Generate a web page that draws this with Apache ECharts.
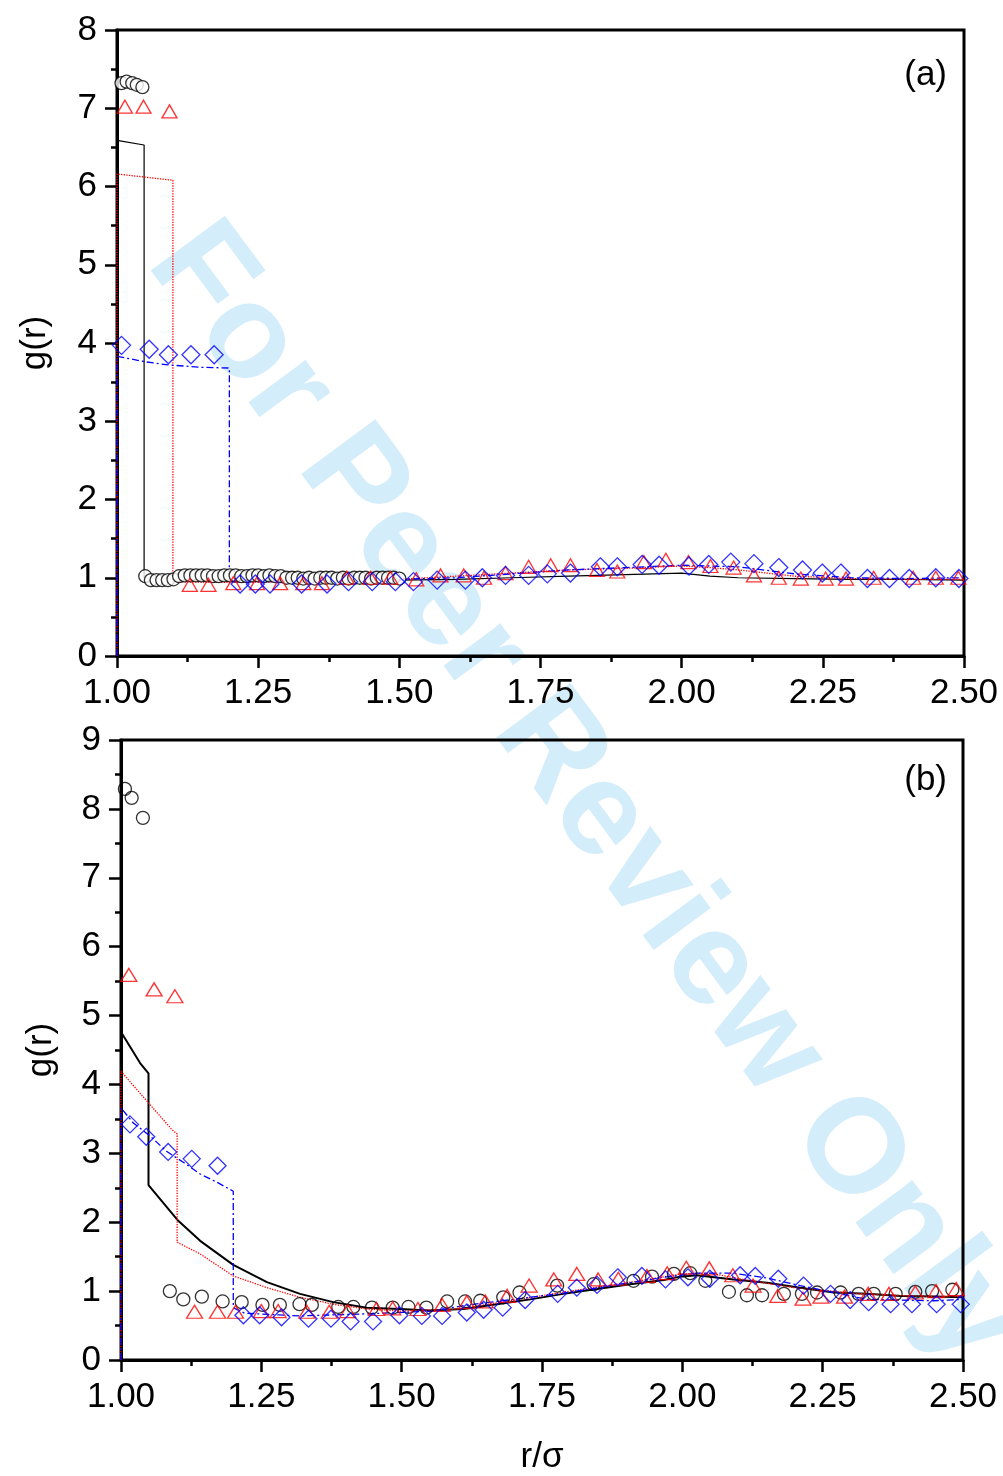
<!DOCTYPE html>
<html><head><meta charset="utf-8">
<script src="https://cdn.jsdelivr.net/npm/echarts@6/dist/echarts.min.js"></script>
<style>html,body{margin:0;padding:0;background:#fff}#c{width:1003px;height:1476px}</style>
</head><body><div id="c"></div>
<script>
// ---------- Panel (a) data ----------
const aCircX = [1.008,1.017,1.027,1.035,1.045,
  1.05,1.06,1.07,1.08,1.09,1.10,1.11,1.12,1.13,1.14,1.15,1.16,1.17,1.18,1.19,1.20,
  1.21,1.22,1.23,1.24,1.25,1.26,1.27,1.28,1.29,1.30,1.31,1.32,1.33,1.34,1.35,1.36,
  1.37,1.38,1.39,1.40,1.41,1.42,1.43,1.44,1.45,1.46,1.47,1.48,1.49,1.50];
const aCircY = [7.32,7.34,7.32,7.30,7.27,
  1.02,0.97,0.97,0.97,0.97,0.98,1.02,1.03,1.03,1.03,1.03,1.03,1.02,1.02,1.03,1.03,
  1.03,1.02,1.02,1.03,1.03,1.02,1.03,1.02,1.02,1.00,1.00,1.00,0.99,1.00,0.99,1.00,
  1.00,1.00,0.99,1.00,0.99,1.00,1.00,1.00,0.99,1.00,1.00,1.00,1.00,0.99];
const aTriX = [1.014,1.047,1.093,1.129,1.162,1.206,1.248,1.289,1.330,1.363,1.407,1.449,1.484,1.530,
  1.573,1.614,1.650,1.688,1.729,1.768,1.803,1.850,1.886,1.933,1.972,2.012,2.051,2.092,2.128,
  2.172,2.211,2.255,2.291,2.340,2.410,2.450,2.490];
const aTriY = [7.02,7.02,6.96,0.91,0.91,0.93,0.93,0.93,0.93,0.93,1.00,1.00,1.00,0.98,
  1.03,1.03,1.00,1.06,1.14,1.16,1.16,1.10,1.08,1.20,1.23,1.20,1.15,1.13,1.03,
  1.00,0.99,0.99,0.99,1.00,1.00,1.00,1.00];
const aDiaX = [1.008,1.057,1.091,1.131,1.172,1.218,1.245,1.271,1.327,1.372,1.410,1.452,1.493,1.525,
  1.567,1.617,1.647,1.688,1.729,1.762,1.803,1.856,1.886,1.930,1.960,2.013,2.048,2.087,2.128,
  2.172,2.214,2.249,2.282,2.329,2.368,2.403,2.450,2.491];
const aDiaY = [3.97,3.92,3.85,3.85,3.85,0.92,0.92,0.92,0.92,0.92,0.95,0.95,0.95,0.95,
  0.97,0.97,1.00,1.03,1.03,1.05,1.06,1.14,1.14,1.17,1.16,1.15,1.17,1.20,1.18,
  1.13,1.10,1.06,1.06,0.99,0.99,0.99,1.00,0.99];
const aBlackX = [1.0,1.0,1.048,1.048,1.1,1.2,1.3,1.4,1.5,1.6,1.7,1.8,1.9,2.0,2.05,2.1,2.2,2.3,2.4,2.5];
const aBlackY = [0,6.59,6.53,1.00,0.98,0.97,0.97,0.97,0.97,0.98,1.00,1.02,1.04,1.06,1.02,1.00,0.99,0.98,0.98,0.97];
const aRedX = [1.0,1.0,1.099,1.099,1.2,1.3,1.4,1.5,1.6,1.7,1.8,1.9,2.0,2.05,2.1,2.2,2.3,2.4,2.5];
const aRedY = [0,6.16,6.08,0.95,0.94,0.95,0.97,0.98,1.02,1.06,1.10,1.12,1.15,1.13,1.10,1.02,0.99,0.98,0.98];
const aBlueX = [1.0,1.0,1.05,1.09,1.15,1.199,1.199,1.3,1.4,1.5,1.6,1.7,1.8,1.9,2.0,2.1,2.2,2.3,2.4,2.5];
const aBlueY = [0,3.83,3.76,3.72,3.69,3.68,0.95,0.95,0.96,0.98,1.00,1.05,1.10,1.13,1.16,1.14,1.05,1.00,0.99,1.00];

// ---------- Panel (b) data ----------
const bCircX = [1.007,1.019,1.039,1.087,1.111,1.144,1.181,1.215,1.252,1.283,1.318,1.340,1.387,1.414,
  1.447,1.484,1.512,1.544,1.581,1.613,1.640,1.681,1.710,1.777,1.842,1.913,1.946,1.985,2.014,
  2.041,2.083,2.115,2.142,2.181,2.213,2.240,2.282,2.314,2.341,2.380,2.415,2.445,2.481];
const bCircY = [8.29,8.16,7.87,1.00,0.88,0.92,0.85,0.84,0.80,0.80,0.81,0.80,0.77,0.77,
  0.76,0.76,0.77,0.76,0.85,0.85,0.86,0.91,0.98,1.08,1.10,1.15,1.21,1.25,1.26,
  1.15,0.99,0.94,0.94,0.96,0.96,0.98,0.98,0.96,0.96,0.96,0.99,1.00,1.02];
const bTriX = [1.014,1.059,1.096,1.131,1.172,1.204,1.250,1.280,1.331,1.371,1.404,1.455,1.484,1.529,
  1.572,1.616,1.649,1.688,1.727,1.771,1.812,1.850,1.886,1.937,1.973,2.007,2.048,2.090,2.126,
  2.170,2.215,2.247,2.289,2.331,2.368,2.415,2.452,2.488];
const bTriY = [5.59,5.38,5.28,0.70,0.70,0.70,0.71,0.71,0.70,0.70,0.71,0.74,0.75,0.74,
  0.80,0.84,0.85,0.93,1.08,1.17,1.25,1.17,1.18,1.22,1.26,1.34,1.33,1.23,1.08,
  0.93,0.89,0.92,0.92,0.96,0.96,0.98,1.00,1.03];
const bDiaX = [1.016,1.045,1.084,1.126,1.172,1.218,1.247,1.286,1.334,1.374,1.409,1.449,1.496,1.536,
  1.572,1.616,1.646,1.680,1.720,1.778,1.812,1.848,1.885,1.928,1.970,2.010,2.049,2.103,2.130,
  2.171,2.216,2.264,2.299,2.332,2.371,2.409,2.453,2.496];
const bDiaY = [3.42,3.24,3.02,2.92,2.82,0.65,0.65,0.62,0.60,0.60,0.56,0.56,0.65,0.64,
  0.64,0.69,0.73,0.76,0.87,0.96,1.05,1.09,1.20,1.22,1.17,1.20,1.18,1.23,1.22,
  1.18,1.08,0.96,0.87,0.84,0.81,0.81,0.81,0.81];
const bBlackX = [1.0,1.0,1.034,1.049,1.049,1.102,1.141,1.2,1.26,1.319,1.378,1.438,1.497,1.55,1.61,
  1.688,1.729,1.788,1.848,1.907,1.967,1.996,2.026,2.091,2.151,2.21,2.27,2.329,2.389,2.448,2.5];
const bBlackY = [0,4.76,4.31,4.16,2.54,2.02,1.73,1.38,1.13,0.96,0.84,0.76,0.74,0.72,0.74,
  0.83,0.88,0.96,1.03,1.10,1.16,1.21,1.23,1.17,1.12,1.05,0.98,0.96,0.93,0.92,0.91];
const bRedX = [1.0,1.0,1.09,1.10,1.10,1.141,1.2,1.26,1.319,1.378,1.438,1.497,1.6,1.7,1.8,1.9,2.0,2.05,2.1,2.2,2.3,2.4,2.5];
const bRedY = [0,4.19,3.35,3.28,1.71,1.54,1.22,1.05,0.91,0.81,0.74,0.71,0.74,0.87,1.00,1.12,1.25,1.26,1.18,1.05,0.97,0.93,0.92];
const bBlueX = [1.0,1.0,1.022,1.052,1.081,1.111,1.141,1.171,1.20,1.20,1.22,1.319,1.438,1.557,1.61,
  1.729,1.788,1.967,2.026,2.091,2.151,2.21,2.27,2.329,2.389,2.448,2.5];
const bBlueY = [0,3.66,3.44,3.25,3.03,2.87,2.70,2.58,2.45,0.76,0.68,0.64,0.67,0.71,0.79,
  0.91,0.97,1.20,1.26,1.26,1.19,1.08,0.98,0.88,0.87,0.86,0.88];

// ---------- axes / labels ----------
const xMin = 1.0, xMax = 2.5, xStep = 0.25;
const aYMax = 8, bYMax = 9, yStep = 1;
const yName = 'g(r)', xName = 'r/σ';
const panelLabels = ['(a)', '(b)'];
const watermark = 'For Peer Review Only';

const FONT = "'Liberation Sans', Arial, sans-serif";
const FS = 35;
const pts = (xs, ys) => xs.map((x, i) => [x, ys[i]]);

function xAxisCfg(gi, showName) {
  return {
    type: 'value', gridIndex: gi, min: xMin, max: xMax, interval: xStep,
    axisLine: { show: true, lineStyle: { color: '#000', width: 3 } },
    axisTick: { show: true, inside: false, length: 12, lineStyle: { color: '#000', width: 2.5 } },
    minorTick: { show: true, splitNumber: 2, length: 6, lineStyle: { color: '#000', width: 2.5 } },
    splitLine: { show: false },
    axisLabel: { color: '#000', fontSize: FS, fontFamily: FONT, margin: 20,
      formatter: v => v.toFixed(2) },
    name: showName ? xName : '', nameLocation: 'middle', nameGap: 80,
    nameTextStyle: { color: '#000', fontSize: FS, fontFamily: FONT }
  };
}
function yAxisCfg(gi, max, gap) {
  return {
    type: 'value', gridIndex: gi, min: 0, max: max, interval: yStep,
    axisLine: { show: true, lineStyle: { color: '#000', width: 3 } },
    axisTick: { show: true, inside: false, length: 12, lineStyle: { color: '#000', width: 2.5 } },
    minorTick: { show: true, splitNumber: 2, length: 6, lineStyle: { color: '#000', width: 2.5 } },
    splitLine: { show: false },
    axisLabel: { color: '#000', fontSize: FS, fontFamily: FONT, margin: 20 },
    name: yName, nameLocation: 'middle', nameGap: gap, nameRotate: 90,
    nameTextStyle: { color: '#000', fontSize: FS, fontFamily: FONT }
  };
}
function line(gi, xs, ys, color, type, width) {
  return { type: 'line', xAxisIndex: gi, yAxisIndex: gi, data: pts(xs, ys), symbol: 'none',
    showSymbol: false, lineStyle: { color, type, width }, z: 2, animation: false, silent: true };
}
function scat(gi, xs, ys, symbol, size, color, fill) {
  return { type: 'scatter', xAxisIndex: gi, yAxisIndex: gi, data: pts(xs, ys), symbol,
    symbolSize: size, itemStyle: { color: fill, borderColor: color, borderWidth: 1.3 },
    z: 3, animation: false, silent: true };
}
const DASHDOT = [7, 3, 2, 3];

const chart = echarts.init(document.getElementById('c'), null, { renderer: 'canvas' });
chart.setOption({
  backgroundColor: '#fff',
  animation: false,
  grid: [
    { left: 117, top: 30, width: 847, height: 626, show: true, borderColor: '#000', borderWidth: 3, backgroundColor: 'transparent' },
    { left: 121, top: 740, width: 842, height: 621, show: true, borderColor: '#000', borderWidth: 3, backgroundColor: 'transparent' }
  ],
  xAxis: [xAxisCfg(0, false), xAxisCfg(1, true)],
  yAxis: [yAxisCfg(0, aYMax, 64), yAxisCfg(1, bYMax, 62)],
  graphic: [
    { type: 'text', x: 585, y: 795, rotation: -53.5 * Math.PI / 180, z: -10, silent: true,
      style: { text: watermark, fill: '#d4edfa', font: "bold 134px 'Liberation Sans', Arial, sans-serif",
        textAlign: 'center', textVerticalAlign: 'middle' } },
    { type: 'text', x: 947, y: 75, z: 10, style: { text: panelLabels[0], fill: '#000',
        font: FS + "px 'Liberation Sans', Arial, sans-serif", textAlign: 'right', textVerticalAlign: 'middle' } },
    { type: 'text', x: 947, y: 780, z: 10, style: { text: panelLabels[1], fill: '#000',
        font: FS + "px 'Liberation Sans', Arial, sans-serif", textAlign: 'right', textVerticalAlign: 'middle' } }
  ],
  series: [
    line(0, aBlackX, aBlackY, '#000', 'solid', 1.2),
    line(0, aRedX, aRedY, '#ff0000', 'dotted', 1.3),
    line(0, aBlueX, aBlueY, '#0000ff', DASHDOT, 1.3),
    scat(0, aCircX, aCircY, 'circle', 13, '#000', '#fff'),
    scat(0, aTriX, aTriY, 'triangle', [15, 13], '#ff0000', 'rgba(0,0,0,0)'),
    scat(0, aDiaX, aDiaY, 'diamond', [18, 18], '#0000ff', 'rgba(0,0,0,0)'),
    line(1, bBlackX, bBlackY, '#000', 'solid', 2),
    line(1, bRedX, bRedY, '#ff0000', 'dotted', 1.3),
    line(1, bBlueX, bBlueY, '#0000ff', DASHDOT, 1.3),
    scat(1, bCircX, bCircY, 'circle', 13, '#000', 'rgba(0,0,0,0)'),
    scat(1, bTriX, bTriY, 'triangle', [16, 13], '#ff0000', 'rgba(0,0,0,0)'),
    scat(1, bDiaX, bDiaY, 'diamond', [17, 17], '#0000ff', 'rgba(0,0,0,0)')
  ]
});
</script></body></html>
